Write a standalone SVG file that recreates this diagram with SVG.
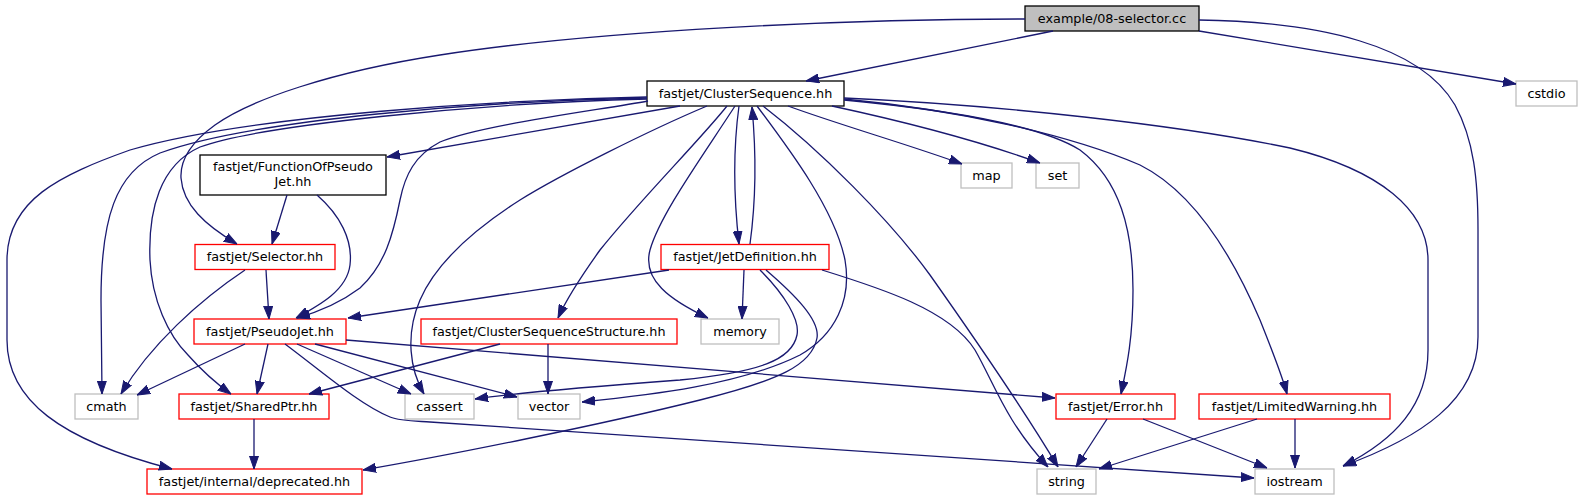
<svg xmlns="http://www.w3.org/2000/svg" width="1583" height="500" viewBox="0 0 1583 500">
<style>
.n rect{stroke-width:1.3}
.blk rect{fill:#fff;stroke:#000}
.cur rect{fill:#bfbfbf;stroke:#000}
.red rect{fill:#fff;stroke:#ff0000}
.gry rect{fill:#fff;stroke:#bfbfbf}
text{font-family:"DejaVu Sans","Liberation Sans",sans-serif;font-size:12.8px;text-anchor:middle;fill:#000}
#edges path{fill:none;stroke:#191970;stroke-width:1.3;marker-end:url(#ah)}
</style>
<defs>
<marker id="ah" viewBox="0 0 13 10" refX="13" refY="5" markerWidth="13" markerHeight="10" markerUnits="userSpaceOnUse" orient="auto">
<path d="M0,0.5 L13,5 L0,9.5 z" fill="#191970" stroke="#191970" stroke-width="1"/>
</marker>
</defs>
<rect width="1583" height="500" fill="#fff"/>
<g id="nodes">
<g id="n-example" class="n cur"><rect x="1025" y="6" width="174" height="25"/><text x="1112" y="22.5">example/08-selector.cc</text></g>
<g id="n-ClusterSequence" class="n blk"><rect x="647" y="81" width="197" height="25"/><text x="745.5" y="97.5">fastjet/ClusterSequence.hh</text></g>
<g id="n-cstdio" class="n gry"><rect x="1516" y="81" width="61" height="25"/><text x="1546.5" y="97.5">cstdio</text></g>
<g id="n-FunctionOfPseudoJet" class="n blk"><rect x="200" y="155" width="186" height="40"/><text x="293" y="170.5">fastjet/FunctionOfPseudo</text><text x="293" y="185.5">Jet.hh</text></g>
<g id="n-map" class="n gry"><rect x="961" y="163" width="51" height="25"/><text x="986.5" y="179.5">map</text></g>
<g id="n-set" class="n gry"><rect x="1036" y="163" width="43" height="25"/><text x="1057.5" y="179.5">set</text></g>
<g id="n-Selector" class="n red"><rect x="195" y="244.5" width="140" height="25"/><text x="265" y="261">fastjet/Selector.hh</text></g>
<g id="n-JetDefinition" class="n red"><rect x="661" y="244.5" width="168" height="25"/><text x="745" y="261">fastjet/JetDefinition.hh</text></g>
<g id="n-PseudoJet" class="n red"><rect x="194" y="319" width="152" height="25"/><text x="270" y="335.5">fastjet/PseudoJet.hh</text></g>
<g id="n-ClusterSequenceStructure" class="n red"><rect x="421" y="319" width="256" height="25"/><text x="549" y="335.5">fastjet/ClusterSequenceStructure.hh</text></g>
<g id="n-memory" class="n gry"><rect x="701" y="319" width="78" height="25"/><text x="740" y="335.5">memory</text></g>
<g id="n-cmath" class="n gry"><rect x="75" y="394" width="63" height="25"/><text x="106.5" y="410.5">cmath</text></g>
<g id="n-SharedPtr" class="n red"><rect x="179" y="394" width="150" height="25"/><text x="254" y="410.5">fastjet/SharedPtr.hh</text></g>
<g id="n-cassert" class="n gry"><rect x="405" y="394" width="69" height="25"/><text x="439.5" y="410.5">cassert</text></g>
<g id="n-vector" class="n gry"><rect x="518" y="394" width="62" height="25"/><text x="549" y="410.5">vector</text></g>
<g id="n-Error" class="n red"><rect x="1056" y="394" width="119" height="25"/><text x="1115.5" y="410.5">fastjet/Error.hh</text></g>
<g id="n-LimitedWarning" class="n red"><rect x="1199" y="394" width="191" height="25"/><text x="1294.5" y="410.5">fastjet/LimitedWarning.hh</text></g>
<g id="n-deprecated" class="n red"><rect x="147" y="469" width="215" height="25"/><text x="254.5" y="485.5">fastjet/internal/deprecated.hh</text></g>
<g id="n-string" class="n gry"><rect x="1037" y="469" width="59" height="25"/><text x="1066.5" y="485.5">string</text></g>
<g id="n-iostream" class="n gry"><rect x="1255" y="469" width="79" height="25"/><text x="1294.5" y="485.5">iostream</text></g>
</g>
<g id="edges">
<path d="M1053,31 L806,81"/>
<path d="M1025,19 C850,19 600,30 440,55 C330,72 250,100 215,125 C190,143 180,160 181,178 C183,205 205,225 237,244"/>
<path d="M1199,31 L1516,84"/>
<path d="M1199,20 C1320,22 1420,45 1455,105 C1474,140 1478,180 1478,230 L1478,337 C1478,400 1420,438 1343,466"/>
<path d="M680,106 L387,157"/>
<path d="M648,101 C600,110 480,125 440,142 C415,155 405,175 400,200 C393,235 385,265 360,288 C340,303 318,312 297,318"/>
<path d="M707,106 C650,130 560,175 520,200 C470,232 435,265 420,300 C405,335 410,370 424,394"/>
<path d="M727,106 C700,140 640,200 600,250 C580,278 566,300 558,318"/>
<path d="M735,106 C700,160 660,215 650,250 C642,280 670,300 708,318"/>
<path d="M739,106 C733,150 734,200 739,244"/>
<path d="M750,244 C756,200 756,150 752,107"/>
<path d="M757,106 C790,150 835,210 845,260 C852,300 835,335 800,355 C740,385 650,395 582,402"/>
<path d="M763,106 C820,150 890,220 930,275 C990,360 1030,420 1058,467"/>
<path d="M788,106 C840,125 910,145 962,164"/>
<path d="M832,106 C920,125 990,145 1040,163"/>
<path d="M844,98 C1000,105 1180,125 1290,148 C1380,170 1428,210 1428,260 L1428,350 C1428,405 1395,440 1343,466"/>
<path d="M844,100 C950,110 1040,125 1080,150 C1120,180 1133,230 1133,290 C1133,340 1126,370 1121,394"/>
<path d="M844,99 C960,110 1070,135 1140,165 C1190,190 1230,250 1260,320 C1272,350 1282,375 1287,394"/>
<path d="M647,97 C500,100 250,115 130,150 C60,175 7,200 7,260 L7,340 C7,400 60,440 172,469"/>
<path d="M647,98 C480,101 250,120 160,153 C115,172 101,220 101,300 L102,394"/>
<path d="M647,99 C480,103 260,125 200,147 C160,165 148,210 150,260 C152,300 168,335 188,355 C203,372 217,384 231,394"/>
<path d="M287,195 L272,244"/>
<path d="M317,195 C340,215 353,240 350,265 C347,290 320,305 296,318"/>
<path d="M266,270 L269,319"/>
<path d="M245,270 C200,300 150,345 121,394"/>
<path d="M669,270 L348,318"/>
<path d="M744,270 L742,319"/>
<path d="M760,270 C785,295 800,320 797,335 C792,360 760,372 680,380 C600,386 520,392 475,399"/>
<path d="M766,270 C795,295 820,320 817,338 C812,365 780,380 700,400 C600,425 450,455 363,470"/>
<path d="M822,270 C880,288 950,310 975,350 C995,385 1005,420 1048,467"/>
<path d="M245,344 L137,395"/>
<path d="M268,344 L257,394"/>
<path d="M297,344 L411,394"/>
<path d="M315,344 L517,397"/>
<path d="M285,344 C320,370 360,405 390,417 C400,421 415,421 430,422 L1254,478"/>
<path d="M346,340 L1055,398"/>
<path d="M254,419 L254,469"/>
<path d="M500,344 L309,394"/>
<path d="M548,344 L548,394"/>
<path d="M1107,419 L1076,467"/>
<path d="M1143,419 L1267,468"/>
<path d="M1257,419 L1099,469"/>
<path d="M1295,419 L1295,468"/>
</g>
</svg>
